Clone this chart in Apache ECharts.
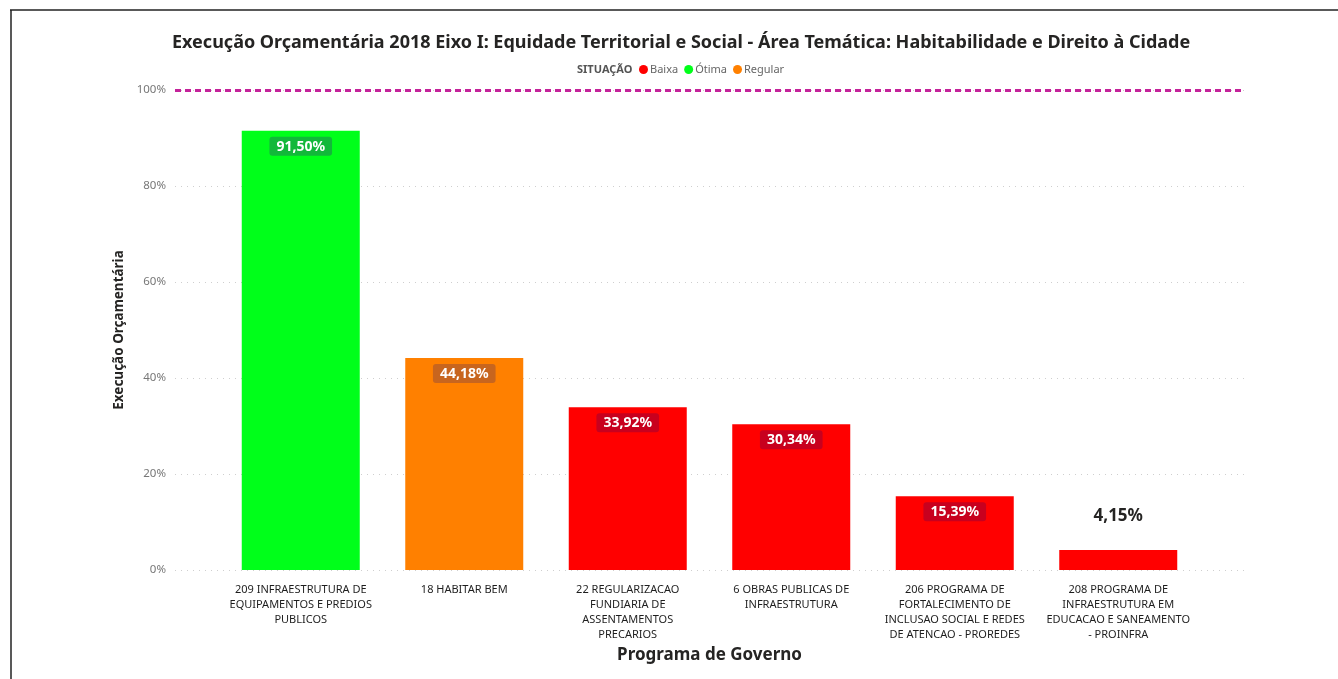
<!DOCTYPE html>
<html>
<head>
<meta charset="utf-8">
<script src="https://cdn.jsdelivr.net/npm/echarts@6/dist/echarts.min.js"></script>
<style>html,body{margin:0;padding:0;background:#fff;}#c{width:1338px;height:679px;}</style>
</head>
<body>
<div id="c"></div>
<script>
const categories = [
  "209 INFRAESTRUTURA DE\nEQUIPAMENTOS E PREDIOS\nPUBLICOS",
  "18 HABITAR BEM",
  "22 REGULARIZACAO\nFUNDIARIA DE\nASSENTAMENTOS\nPRECARIOS",
  "6 OBRAS PUBLICAS DE\nINFRAESTRUTURA",
  "206 PROGRAMA DE\nFORTALECIMENTO DE\nINCLUSAO SOCIAL E REDES\nDE ATENCAO - PROREDES",
  "208 PROGRAMA DE\nINFRAESTRUTURA EM\nEDUCACAO E SANEAMENTO\n- PROINFRA"
];
const execucao = [91.50, 44.18, 33.92, 30.34, 15.39, 4.15];
const situacao = ["Ótima", "Regular", "Baixa", "Baixa", "Baixa", "Baixa"];
const situacaoNames = ["Baixa", "Ótima", "Regular"];
const yTicks = [0, 20, 40, 60, 80, 100];
const meta = 100;

const FONT = "'Noto Sans', 'Open Sans', sans-serif";
const barColors = { "Baixa": "#FF0000", "Ótima": "#00FF1A", "Regular": "#FF8000" };
const labelBg = { "Baixa": "#C8001E", "Ótima": "#12B83A", "Regular": "#C8651E" };
const fmt = v => v.toFixed(2).replace('.', ',') + '%';

const barSeries = situacaoNames.map(name => ({
  name: name,
  type: 'bar',
  stack: 'exec',
  xAxisIndex: 0, yAxisIndex: 0,
  barWidth: 118,
  itemStyle: { color: barColors[name] },
  label: {
    show: true,
    position: 'insideTop',
    distance: 6,
    formatter: p => fmt(p.value),
    color: '#ffffff',
    fontFamily: FONT,
    fontWeight: 'bold',
    fontSize: 14,
    backgroundColor: labelBg[name],
    borderRadius: 3,
    padding: [3, 7, 2, 7]
  },
  data: execucao.map((v, i) => {
    if (situacao[i] !== name) return null;
    if (v < 8) {
      return { value: v, label: { position: 'top', distance: 23, color: '#252423', backgroundColor: 'transparent', fontSize: 17 } };
    }
    return v;
  })
}));

const option = {
  animation: false,
  backgroundColor: '#ffffff',
  title: [
    {
      text: 'Execução Orçamentária 2018 Eixo I: Equidade Territorial e Social - Área Temática: Habitabilidade e Direito à Cidade',
      left: 167, top: 29,
      textStyle: { fontFamily: FONT, fontSize: 18, fontWeight: 'bold', color: '#252423' }
    },
    {
      text: 'SITUAÇÃO', left: 572, top: 59,
      textStyle: { fontFamily: FONT, fontSize: 11, fontWeight: 'bold', color: '#555555' }
    }
  ],
  legend: {
    data: situacaoNames,
    left: 634, top: 59,
    icon: 'circle', itemWidth: 9, itemHeight: 9, itemGap: 6,
    textStyle: { fontFamily: FONT, fontSize: 11, color: '#666666', padding: [0, 0, 0, -3] }
  },
  graphic: [
    { type: 'line', shape: { x1: 10, y1: 10, x2: 1338, y2: 10 }, style: { stroke: '#222', lineWidth: 1.5 } },
    { type: 'line', shape: { x1: 11, y1: 10, x2: 11, y2: 679 }, style: { stroke: '#222', lineWidth: 1.5 } }
  ],
  grid: [
    { left: 219, right: 138, top: 90, bottom: 109 },
    { left: 175, right: 93, top: 90, bottom: 109 }
  ],
  xAxis: [
    {
      type: 'category', gridIndex: 0, data: categories,
      axisLine: { show: false }, axisTick: { show: false },
      axisLabel: { interval: 0, color: '#1e1e1e', fontFamily: FONT, fontSize: 11, lineHeight: 15, margin: 12 },
      name: 'Programa de Governo', nameLocation: 'middle', nameGap: 77,
      nameTextStyle: { fontFamily: FONT, fontSize: 17, fontWeight: 'bold', color: '#252423' }
    },
    { type: 'value', gridIndex: 1, show: false, min: 0, max: 1 }
  ],
  yAxis: [
    { type: 'value', gridIndex: 0, min: 0, max: 100, show: false },
    {
      type: 'value', gridIndex: 1, min: yTicks[0], max: yTicks[yTicks.length - 1], interval: 20,
      axisLine: { show: false }, axisTick: { show: false },
      axisLabel: { formatter: '{value}%', color: '#777777', fontFamily: FONT, fontSize: 11.5, margin: 9 },
      splitLine: { show: true, lineStyle: { color: '#cfcfcf', type: [1, 5], width: 1 } },
      name: 'Execução Orçamentária', nameLocation: 'middle', nameRotate: 90, nameGap: 49,
      nameTextStyle: { fontFamily: FONT, fontSize: 13.5, fontWeight: 'bold', color: '#252423' }
    }
  ],
  series: barSeries.concat([{
    name: 'Meta',
    type: 'line',
    xAxisIndex: 1, yAxisIndex: 1,
    data: [],
    silent: true,
    markLine: {
      silent: true, symbol: 'none',
      label: { show: false },
      lineStyle: { color: '#C4229A', type: [6, 4], width: 3 },
      data: [{ yAxis: meta }]
    }
  }])
};

const chart = echarts.init(document.getElementById('c'));
chart.setOption(option);
</script>
</body>
</html>
